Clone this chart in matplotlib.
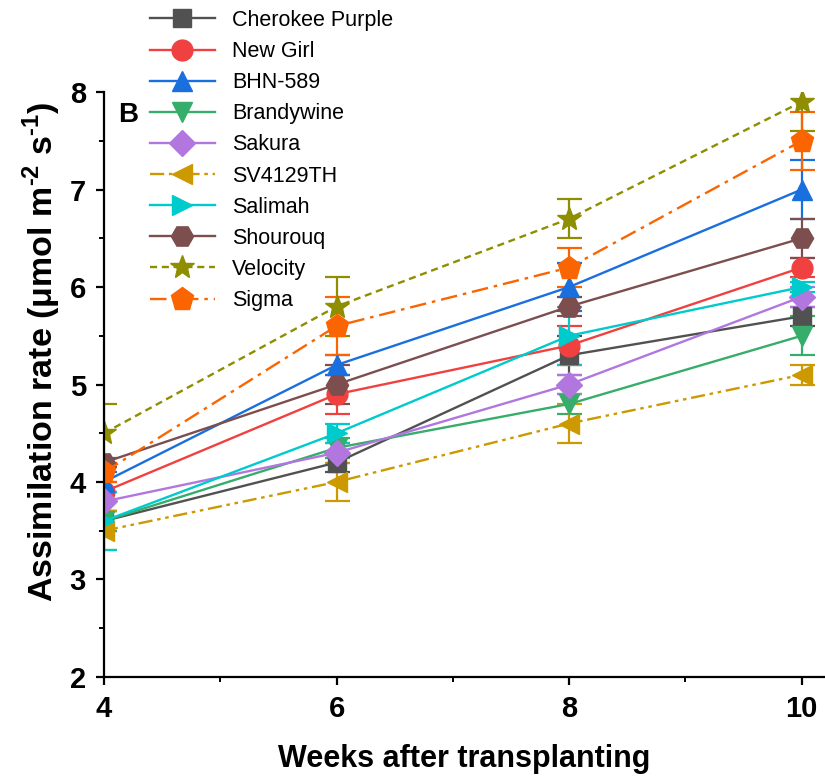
import numpy as np
import matplotlib
matplotlib.use("Agg")
import matplotlib.pyplot as plt
from matplotlib.ticker import MultipleLocator

plt.rcParams['font.family'] = ['Liberation Sans', 'DejaVu Sans']
plt.rcParams['mathtext.fontset'] = 'custom'
plt.rcParams['mathtext.rm'] = 'Liberation Sans:bold'
plt.rcParams['mathtext.bf'] = 'Liberation Sans:bold'

# Data
weeks = [4, 6, 8, 10]
cultivars = ['Cherokee Purple', 'New Girl', 'BHN-589', 'Brandywine', 'Sakura',
             'SV4129TH', 'Salimah', 'Shourouq', 'Velocity', 'Sigma']

cherokee = [3.6, 4.2, 5.3, 5.7]
new_girl = [3.9, 4.9, 5.4, 6.2]
bhn589 = [4.0, 5.2, 6.0, 7.0]
brandywine = [3.6, 4.35, 4.8, 5.5]
sakura = [3.8, 4.3, 5.0, 5.9]
sv4129th = [3.5, 4.0, 4.6, 5.1]
salimah = [3.6, 4.5, 5.5, 6.0]
shourouq = [4.2, 5.0, 5.8, 6.5]
velocity = [4.5, 5.8, 6.7, 7.9]
sigma = [4.1, 5.6, 6.2, 7.5]

cherokee_err = [0.1, 0.1, 0.2, 0.1]
new_girl_err = [0.1, 0.2, 0.2, 0.1]
bhn589_err = [0.1, 0.1, 0.25, 0.3]
brandywine_err = [0.1, 0.1, 0.1, 0.2]
sakura_err = [0.1, 0.1, 0.1, 0.1]
sv4129th_err = [0.2, 0.2, 0.2, 0.1]
salimah_err = [0.3, 0.1, 0.3, 0.05]
shourouq_err = [0.05, 0.2, 0.1, 0.2]
velocity_err = [0.3, 0.3, 0.2, 0.3]
sigma_err = [0.1, 0.3, 0.2, 0.3]

values = [cherokee, new_girl, bhn589, brandywine, sakura,
          sv4129th, salimah, shourouq, velocity, sigma]
errors = [cherokee_err, new_girl_err, bhn589_err, brandywine_err, sakura_err,
          sv4129th_err, salimah_err, shourouq_err, velocity_err, sigma_err]

# Styles (Origin-like palette)
colors = ['#515151', '#F14040', '#1A6FDF', '#37AD6B', '#B177DE',
          '#CC9900', '#00CBCC', '#7D4E4E', '#8E8E00', '#FB6501']
markers = ['s', 'o', '^', 'v', 'D', '<', '>', 'H', '*', 'p']
msizes = [13, 15, 15, 15, 13, 15, 15, 16, 18, 17]
styles = ['-', '-', '-', '-', '-', (0, (6, 2, 1.5, 2, 1.5, 2)), '-', '-',
          (0, (3, 2)), (0, (7, 2.5, 1.5, 2.5))]

fig = plt.figure(figsize=(8.25, 7.76), dpi=100)
ax = fig.add_axes([0.126, 0.1276, 0.874, 0.7538])

handles = []
for name, y, e, c, m, ms, ls in zip(cultivars, values, errors, colors,
                                     markers, msizes, styles):
    cont = ax.errorbar(weeks, y, yerr=e, color=c, marker=m, markersize=ms,
                       linestyle=ls, linewidth=1.7, elinewidth=1.6, capsize=9,
                       capthick=1.6, label=name)
    handles.append(cont[0])

ax.set_xlim(4, 10.2)
ax.set_ylim(2, 8)
ax.xaxis.set_major_locator(MultipleLocator(2))
ax.xaxis.set_minor_locator(MultipleLocator(1))
ax.yaxis.set_major_locator(MultipleLocator(1))
ax.yaxis.set_minor_locator(MultipleLocator(0.5))

for s in ['top', 'right']:
    ax.spines[s].set_visible(False)
for s in ['left', 'bottom']:
    ax.spines[s].set_linewidth(1.6)

ax.tick_params(which='major', direction='out', length=6, width=1.6,
               labelsize=21, pad=7)
ax.tick_params(which='minor', direction='out', length=3.5, width=1.4)
for lab in ax.get_xticklabels() + ax.get_yticklabels():
    lab.set_fontweight('bold')

ax.set_xlabel('Weeks after transplanting', fontsize=22, fontweight='bold',
              labelpad=15)
ax.set_ylabel('Assimilation rate (μmol m$^{\\text{-}2}$ s$^{\\text{-}1}$)',
              fontsize=24.5, fontweight='bold')
ax.yaxis.set_label_coords(-0.057, 0.556)

ax.text(0.02, 0.96, 'B', transform=ax.transAxes, fontsize=20,
        fontweight='bold', va='center', ha='left')

leg = fig.legend(handles, cultivars, loc='upper left',
                 bbox_to_anchor=(150 / 825, 1 - 10 / 776),
                 frameon=False, fontsize=15.5, handlelength=3.0,
                 handletextpad=0.8, labelspacing=0.47, borderaxespad=0,
                 borderpad=0)

fig.savefig('out.png', dpi=100)
